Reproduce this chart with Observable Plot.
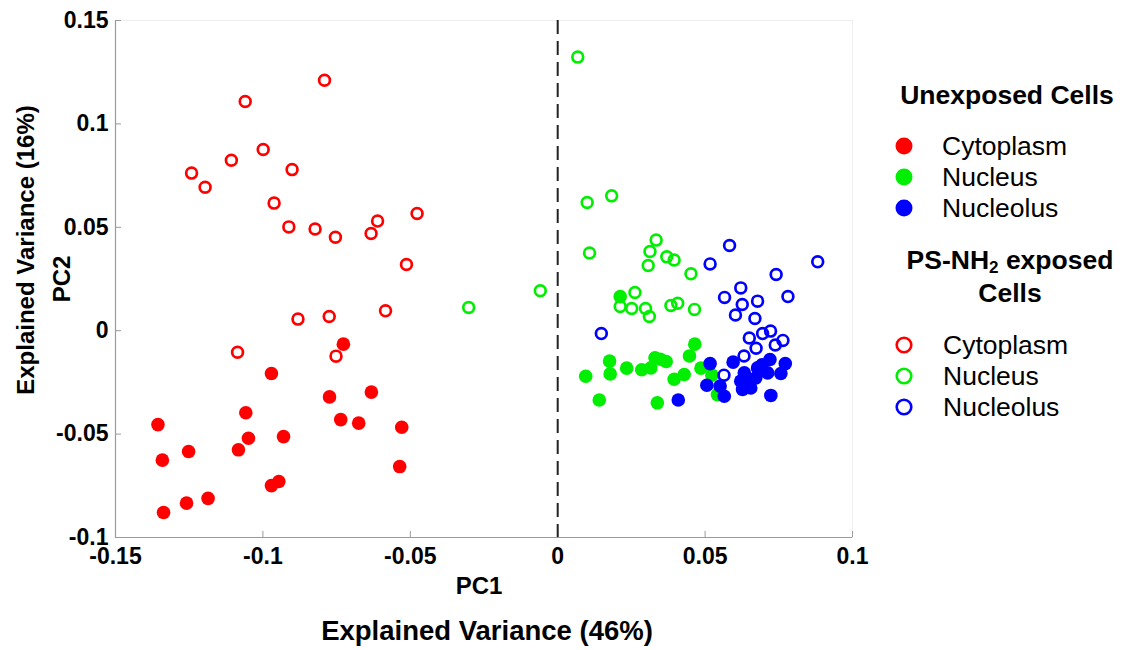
<!DOCTYPE html>
<html>
<head>
<meta charset="utf-8">
<script src="https://cdn.jsdelivr.net/npm/d3@7"></script>
<script src="https://cdn.jsdelivr.net/npm/@observablehq/plot@0.6"></script>
<style>
  html, body { margin: 0; padding: 0; background: #fff; overflow: hidden; }
  #chart { position: relative; width: 1126px; height: 650px; }
  svg { font-family: "Liberation Sans", Arial, sans-serif; }
</style>
</head>
<body>
<div id="chart"></div>
<script>
// ---- Data (PC1, PC2) ----
const unexposedCytoplasm = [
  [-0.0727,-0.0065],[-0.0971,-0.0207],[-0.0774,-0.0320],[-0.0632,-0.0297],[-0.1058,-0.0397],
  [-0.0736,-0.0430],[-0.0675,-0.0447],[-0.0529,-0.0467],[-0.1356,-0.0454],[-0.1049,-0.0520],
  [-0.0930,-0.0512],[-0.1083,-0.0576],[-0.1252,-0.0584],[-0.1341,-0.0626],[-0.0536,-0.0657],
  [-0.0946,-0.0729],[-0.0971,-0.0749],[-0.1186,-0.0811],[-0.1259,-0.0834],[-0.1337,-0.0879]
];
const unexposedNucleus = [
  [0.0212,0.0165],[0.0465,-0.0065],[0.0447,-0.0122],[0.0176,-0.0147],[0.0330,-0.0131],
  [0.0348,-0.0138],[0.0368,-0.0149],[0.0234,-0.0181],[0.0285,-0.0189],[0.0316,-0.0180],
  [0.0178,-0.0209],[0.0095,-0.0220],[0.0429,-0.0212],[0.0395,-0.0235],[0.0486,-0.0181],
  [0.0523,-0.0215],[0.0141,-0.0335],[0.0338,-0.0349],[0.0542,-0.0309]
];
const unexposedNucleolus = [
  [0.0517,-0.0159],[0.0595,-0.0152],[0.0720,-0.0139],[0.0772,-0.0159],[0.0693,-0.0165],
  [0.0712,-0.0204],[0.0757,-0.0207],[0.0633,-0.0204],[0.0672,-0.0228],[0.0621,-0.0244],
  [0.0506,-0.0264],[0.0551,-0.0268],[0.0655,-0.0277],[0.0627,-0.0284],[0.0565,-0.0317],
  [0.0723,-0.0313],[0.0644,-0.0236],[0.0678,-0.0180],[0.0409,-0.0335]
];
const exposedCytoplasm = [
  [-0.0791,0.1211],[-0.1060,0.1108],[-0.0999,0.0876],[-0.1107,0.0824],[-0.0901,0.0779],
  [-0.1242,0.0762],[-0.1196,0.0694],[-0.0962,0.0617],[-0.0912,0.0502],[-0.0823,0.0492],
  [-0.0754,0.0452],[-0.0633,0.0470],[-0.0611,0.0530],[-0.0477,0.0567],[-0.0513,0.0320],
  [-0.0881,0.0056],[-0.0775,0.0069],[-0.0584,0.0096],[-0.1086,-0.0104],[-0.0752,-0.0123]
];
const exposedNucleus = [
  [-0.0302,0.0112],[-0.0059,0.0193],[0.0068,0.1323],[0.0100,0.0620],[0.0183,0.0652],
  [0.0108,0.0376],[0.0334,0.0438],[0.0313,0.0383],[0.0370,0.0357],[0.0395,0.0342],
  [0.0307,0.0315],[0.0452,0.0275],[0.0262,0.0185],[0.0212,0.0117],[0.0251,0.0107],
  [0.0298,0.0107],[0.0311,0.0069],[0.0384,0.0122],[0.0407,0.0133],[0.0464,0.0103]
];
const exposedNucleolus = [
  [0.0583,0.0412],[0.0517,0.0323],[0.0882,0.0333],[0.0741,0.0272],[0.0621,0.0207],
  [0.0566,0.0161],[0.0781,0.0165],[0.0678,0.0143],[0.0626,0.0127],[0.0603,0.0076],
  [0.0669,0.0059],[0.0148,-0.0014],[0.0695,-0.0014],[0.0722,-0.0002],[0.0650,-0.0035],
  [0.0764,-0.0047],[0.0738,-0.0069],[0.0673,-0.0085],[0.0632,-0.0122],[0.0564,-0.0215]
];

const regions = ["Cytoplasm", "Nucleus", "Nucleolus"];
const regionColors = ["#ff0000", "#00ee00", "#0000ff"];
const groupTitles = ["Unexposed Cells", "PS-NH\u2082 exposed Cells"];
const xTicks = [-0.15, -0.1, -0.05, 0, 0.05, 0.1];
const yTicks = [-0.1, -0.05, 0, 0.05, 0.1, 0.15];
const xDomain = [-0.15, 0.1];
const yDomain = [-0.1, 0.15];
const xLabel = "PC1";
const yLabel = "PC2";
const xTitle = "Explained Variance (46%)";
const yTitle = "Explained Variance (16%)";

const toRows = (arr, region, exposed) => arr.map(([x, y]) => ({x, y, region, exposed}));
const filled = [
  ...toRows(unexposedCytoplasm, "Cytoplasm", false),
  ...toRows(unexposedNucleus, "Nucleus", false),
  ...toRows(unexposedNucleolus, "Nucleolus", false)
];
const open = [
  ...toRows(exposedCytoplasm, "Cytoplasm", true),
  ...toRows(exposedNucleus, "Nucleus", true),
  ...toRows(exposedNucleolus, "Nucleolus", true)
];

const W = 1126, H = 650;
const mL = 115, mR = 274, mT = 20, mB = 113;
const frameW = W - mL - mR, frameH = H - mT - mB;

const plot = Plot.plot({
  width: W,
  height: H,
  marginLeft: mL, marginRight: mR, marginTop: mT, marginBottom: mB,
  style: {fontFamily: '"Liberation Sans", Arial, sans-serif', color: "#000", background: "#fff"},
  x: {domain: xDomain, axis: null},
  y: {domain: yDomain, axis: null},
  color: {domain: regions, range: regionColors},
  marks: [
    Plot.frame({stroke: "#eeeeee", strokeWidth: 1}),
    Plot.ruleX([xDomain[0]], {stroke: "#9a9a9a", strokeWidth: 1.2}),
    Plot.ruleY([yDomain[0]], {stroke: "#9a9a9a", strokeWidth: 1.2}),
    Plot.tickX(xTicks, {x: d => d, stroke: "#9a9a9a", insetTop: frameH - 6}),
    Plot.tickY(yTicks, {y: d => d, stroke: "#9a9a9a", insetRight: frameW - 6}),
    Plot.axisX({ticks: xTicks, tickSize: 0, tickPadding: 10, tickFormat: d => String(d),
      fontSize: 23, fontWeight: "bold", label: null, fill: "#000"}),
    Plot.axisY({ticks: yTicks, tickSize: 0, tickPadding: 7, tickFormat: d => String(d),
      fontSize: 23, fontWeight: "bold", label: null, fill: "#000"}),
    Plot.ruleX([0], {stroke: "#222", strokeWidth: 2, strokeDasharray: "14,7"}),
    Plot.dot(filled, {x: "x", y: "y", r: 6.8, fill: "region", stroke: "none"}),
    Plot.dot(open, {x: "x", y: "y", r: 5.4, stroke: "region", strokeWidth: 2.7, fill: "none"}),
    Plot.text([xLabel], {text: d => d, frameAnchor: "bottom", textAnchor: "middle", lineAnchor: "middle",
      dx: -5, dy: 49, fontSize: 24, fontWeight: "bold", fill: "#000"}),
    Plot.text([xTitle], {text: d => d, frameAnchor: "bottom", textAnchor: "middle", lineAnchor: "middle",
      dx: 3, dy: 94, fontSize: 27.5, fontWeight: "bold", fill: "#000"}),
    Plot.text([yLabel], {text: d => d, frameAnchor: "left", textAnchor: "middle", lineAnchor: "middle",
      dx: -53, dy: 0, rotate: -90, fontSize: 24, fontWeight: "bold", fill: "#000"}),
    Plot.text([yTitle], {text: d => d, frameAnchor: "left", textAnchor: "middle", lineAnchor: "middle",
      dx: -89, dy: -29, rotate: -90, fontSize: 24, fontWeight: "bold", fill: "#000"})
  ]
});
document.getElementById("chart").appendChild(plot);

// ---- Legend (drawn into the same SVG) ----
const svg = d3.select(plot);
const lg = svg.append("g").attr("font-family", '"Liberation Sans", Arial, sans-serif')
  .attr("fill", "#000").attr("text-anchor", "start");
const titleFont = 26.5, itemFont = 26.5;
lg.append("text").attr("x", 1007).attr("y", 95).attr("text-anchor", "middle")
  .attr("dominant-baseline", "central").attr("font-weight", "bold").attr("font-size", titleFont)
  .text(groupTitles[0]);
const filledRowsY = [146, 177, 208];
regions.forEach((r, i) => {
  lg.append("circle").attr("cx", 904).attr("cy", filledRowsY[i]).attr("r", 8.5).attr("fill", regionColors[i]);
  lg.append("text").attr("x", 942).attr("y", filledRowsY[i]).attr("text-anchor", "start")
    .attr("dominant-baseline", "central").attr("font-size", itemFont).text(r);
});
const t2 = lg.append("text").attr("x", 1010).attr("y", 260).attr("text-anchor", "middle")
  .attr("dominant-baseline", "central").attr("font-weight", "bold").attr("font-size", titleFont);
t2.append("tspan").text("PS-NH");
t2.append("tspan").attr("font-size", 17).attr("dy", 7).text("2");
t2.append("tspan").attr("dy", -7).text(" exposed");
lg.append("text").attr("x", 1010).attr("y", 293).attr("text-anchor", "middle")
  .attr("dominant-baseline", "central").attr("font-weight", "bold").attr("font-size", titleFont)
  .text("Cells");
const openRowsY = [345, 376, 407];
regions.forEach((r, i) => {
  lg.append("circle").attr("cx", 904).attr("cy", openRowsY[i]).attr("r", 7.3).attr("fill", "none")
    .attr("stroke", regionColors[i]).attr("stroke-width", 2.6);
  lg.append("text").attr("x", 943).attr("y", openRowsY[i]).attr("text-anchor", "start")
    .attr("dominant-baseline", "central").attr("font-size", itemFont).text(r);
});
</script>
</body>
</html>
